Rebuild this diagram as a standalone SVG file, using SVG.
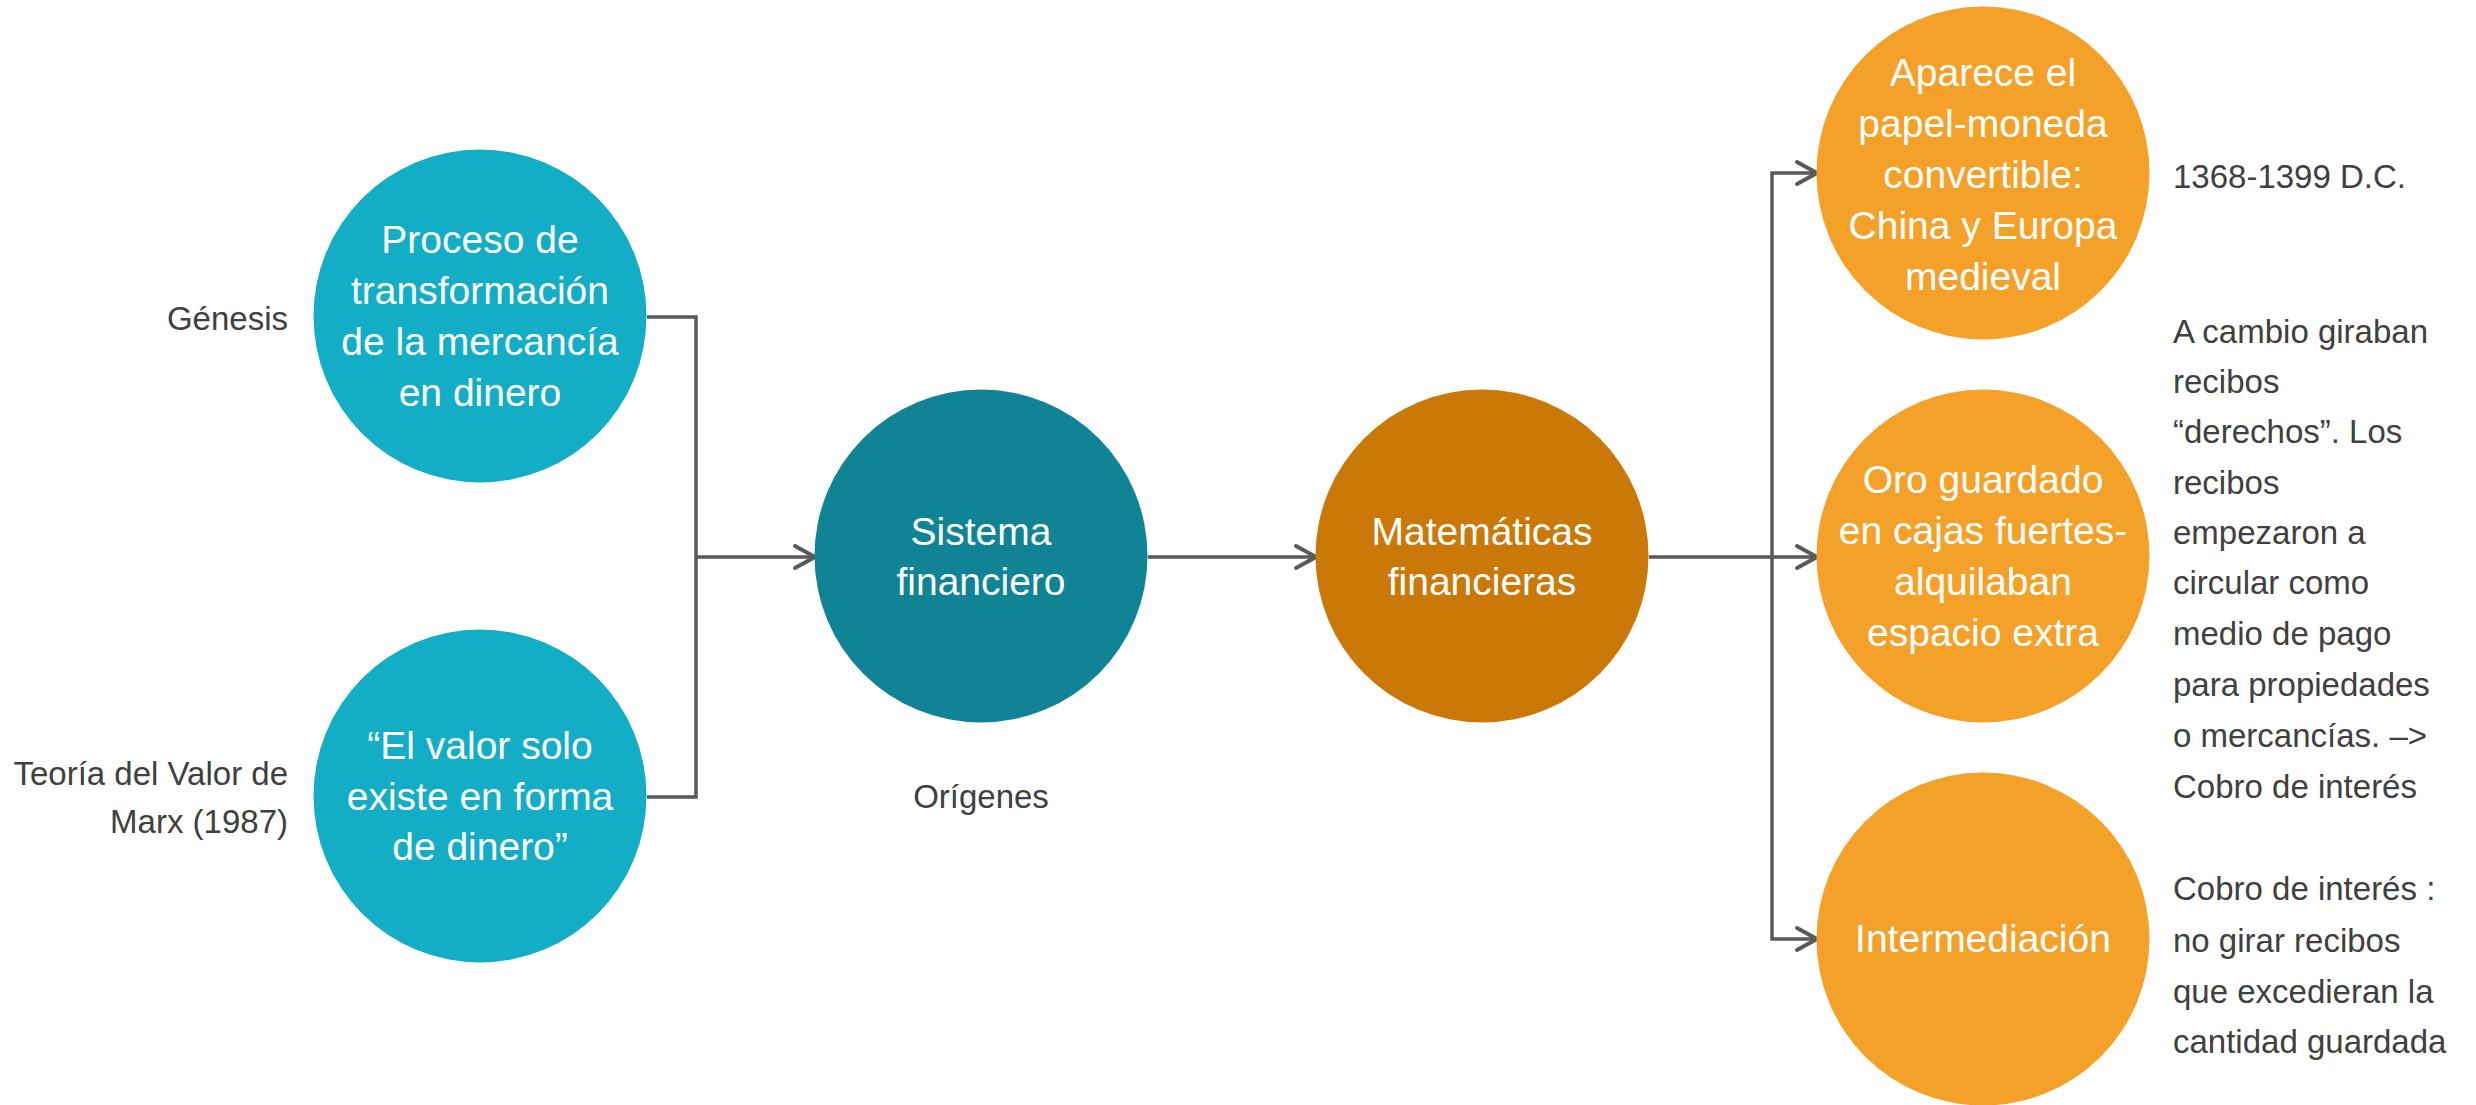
<svg xmlns="http://www.w3.org/2000/svg" width="2476" height="1105" viewBox="0 0 2476 1105">
<style>
.ct{font-family:"Liberation Sans",Arial,sans-serif;font-size:39px;fill:#ffffff;text-anchor:middle}
.st{font-family:"Liberation Sans",Arial,sans-serif;font-size:33px;fill:#404040}
.r{text-anchor:end}
.m{text-anchor:middle}
.c1{fill:#13AEC6}
.c2{fill:#108494}
.c3{fill:#CA7909}
.c4{fill:#F4A12A}
.ln{fill:none;stroke:#595959;stroke-width:3.5}
</style>
<defs>
<marker id="ah" markerUnits="userSpaceOnUse" markerWidth="30" markerHeight="30" viewBox="0 0 30 30" refX="25" refY="15" orient="auto">
<path d="M5,4 L25,15 L5,26" fill="none" stroke="#595959" stroke-width="4" stroke-linecap="round" stroke-linejoin="round"/>
</marker>
</defs>
<rect width="2476" height="1105" fill="#ffffff"/>
<g id="connectors">
<path class="ln" d="M647,317 H696 V797 H647"/>
<path class="ln" d="M696,557 H815" marker-end="url(#ah)"/>
<path class="ln" d="M1148,557 H1316" marker-end="url(#ah)"/>
<path class="ln" d="M1649,557 H1817" marker-end="url(#ah)"/>
<path class="ln" d="M1772,557 V173 H1817" marker-end="url(#ah)"/>
<path class="ln" d="M1772,557 V939 H1817" marker-end="url(#ah)"/>
</g>
<g id="node-proceso">
<circle class="c1" cx="480" cy="316" r="166.5"/>
<text class="ct"><tspan x="480" y="253">Proceso de</tspan><tspan x="480" y="304">transformación</tspan><tspan x="480" y="355">de la mercancía</tspan><tspan x="480" y="406">en dinero</tspan></text>
</g>
<g id="node-valor">
<circle class="c1" cx="480" cy="796" r="166.5"/>
<text class="ct"><tspan x="480" y="759">“El valor solo</tspan><tspan x="480" y="810">existe en forma</tspan><tspan x="480" y="860">de dinero”</tspan></text>
</g>
<g id="node-sistema">
<circle class="c2" cx="981" cy="556" r="166.5"/>
<text class="ct"><tspan x="981" y="545">Sistema</tspan><tspan x="981" y="595">financiero</tspan></text>
</g>
<g id="node-matematicas">
<circle class="c3" cx="1482" cy="556" r="166.5"/>
<text class="ct"><tspan x="1482" y="545">Matemáticas</tspan><tspan x="1482" y="595">financieras</tspan></text>
</g>
<g id="node-aparece">
<circle class="c4" cx="1983" cy="173" r="166.5"/>
<text class="ct"><tspan x="1983" y="86">Aparece el</tspan><tspan x="1983" y="137">papel-moneda</tspan><tspan x="1983" y="188">convertible:</tspan><tspan x="1983" y="239">China y Europa</tspan><tspan x="1983" y="290">medieval</tspan></text>
</g>
<g id="node-oro">
<circle class="c4" cx="1983" cy="556" r="166.5"/>
<text class="ct"><tspan x="1983" y="493">Oro guardado</tspan><tspan x="1983" y="544">en cajas fuertes-</tspan><tspan x="1983" y="595">alquilaban</tspan><tspan x="1983" y="646">espacio extra</tspan></text>
</g>
<g id="node-intermediacion">
<circle class="c4" cx="1983" cy="939" r="166.5"/>
<text class="ct" x="1983" y="952">Intermediación</text>
</g>
<g id="labels">
<text class="st r" x="288" y="330">Génesis</text>
<text class="st r"><tspan x="288" y="785">Teoría del Valor de</tspan><tspan x="288" y="833">Marx (1987)</tspan></text>
<text class="st m" x="981" y="808">Orígenes</text>
<text class="st" x="2173" y="188">1368-1399 D.C.</text>
<text class="st"><tspan x="2173" y="343">A cambio giraban</tspan><tspan x="2173" y="393">recibos</tspan><tspan x="2173" y="443">“derechos”. Los</tspan><tspan x="2173" y="494">recibos</tspan><tspan x="2173" y="544">empezaron a</tspan><tspan x="2173" y="594">circular como</tspan><tspan x="2173" y="645">medio de pago</tspan><tspan x="2173" y="696">para propiedades</tspan><tspan x="2173" y="747">o mercancías. –&gt;</tspan><tspan x="2173" y="798">Cobro de interés</tspan></text>
<text class="st"><tspan x="2173" y="900">Cobro de interés :</tspan><tspan x="2173" y="952">no girar recibos</tspan><tspan x="2173" y="1003">que excedieran la</tspan><tspan x="2173" y="1053">cantidad guardada</tspan></text>
</g>
</svg>
